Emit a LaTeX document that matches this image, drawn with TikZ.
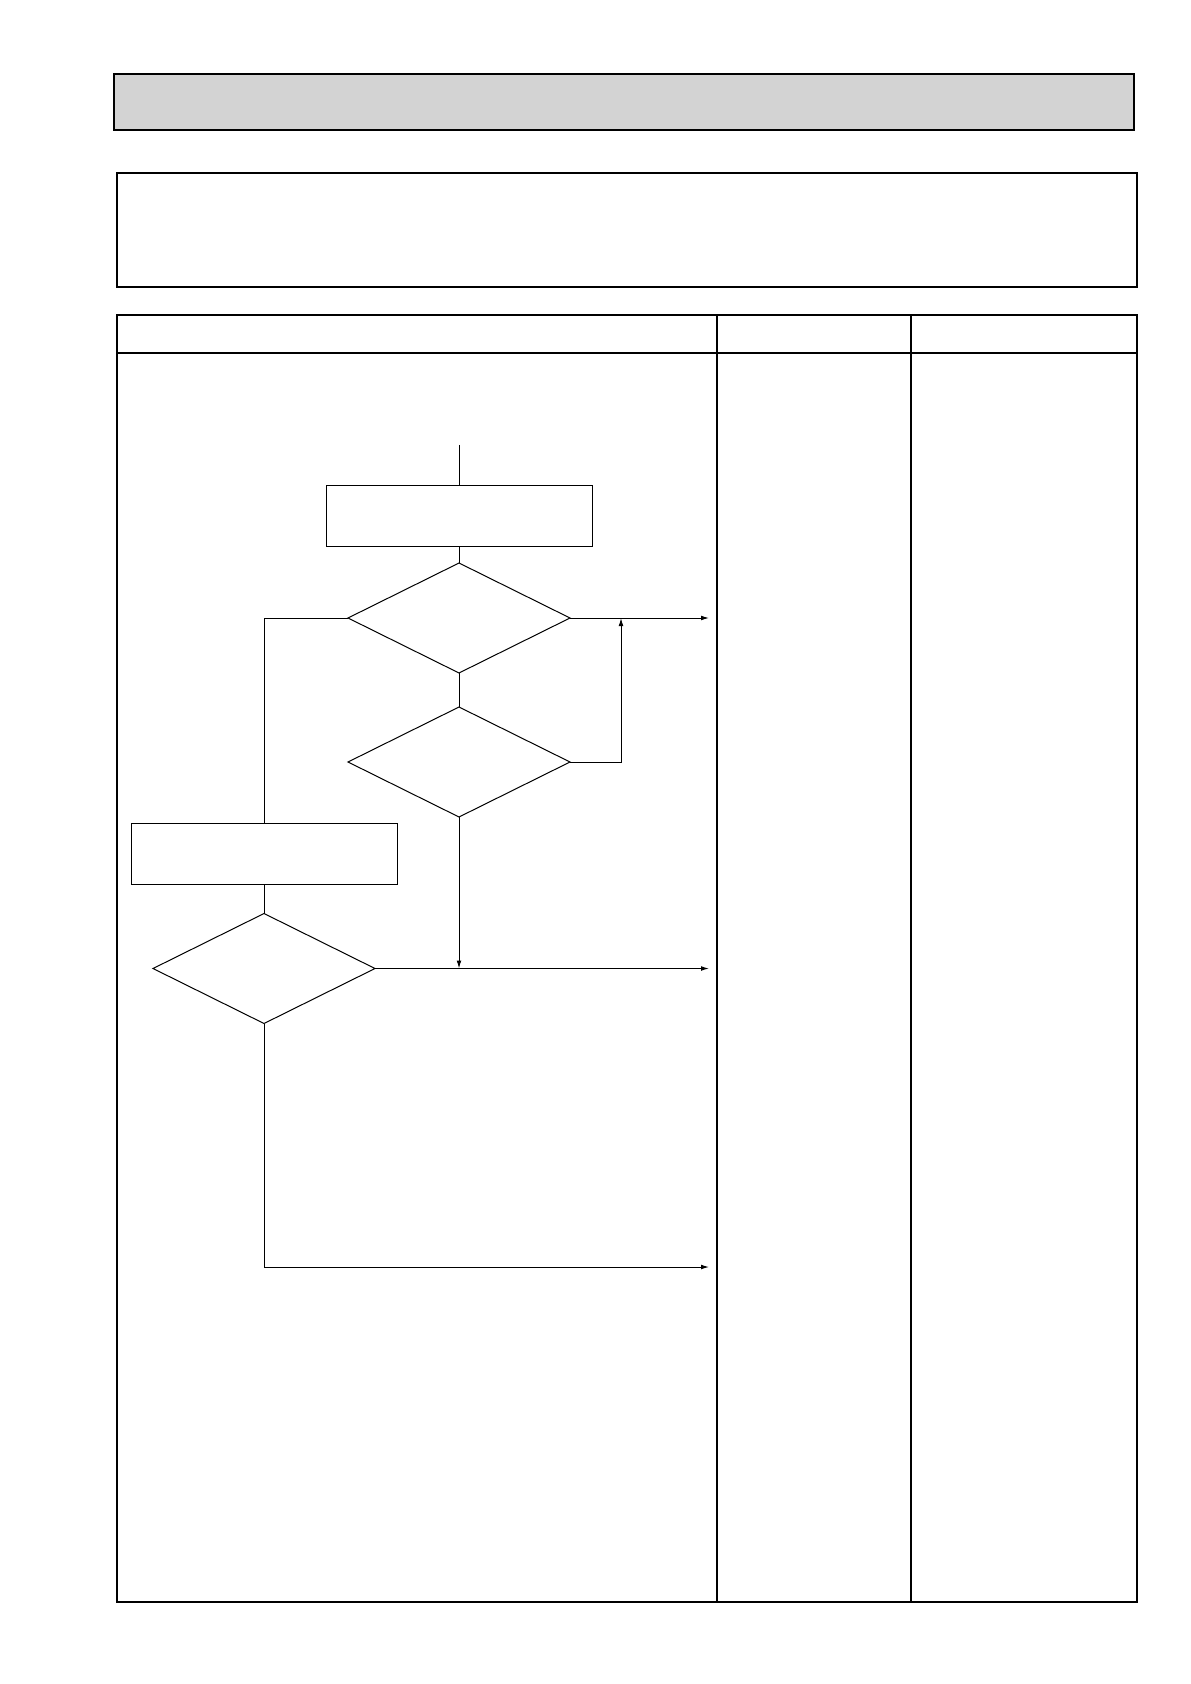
\documentclass[tikz,border=0pt]{standalone}
\usetikzlibrary{arrows.meta,positioning,shapes.geometric}
\definecolor{bandgray}{RGB}{211,211,211}
\newcommand{\flw}{0.5pt}
\tikzset{
    frame/.style = {draw, line width=0.8pt},
    shade/.style = {line width=1.3pt},
    procbox/.style = {
        draw, rectangle, line width=\flw,
        outer sep=0,
        inner sep=0,
        minimum width=133pt,
        minimum height=30.5pt
    },
    decision/.style = {
        draw, diamond, aspect=2, line width=\flw,
        outer sep=0,
        inner sep=0,
        minimum width=111pt,
        minimum height=55pt
    },
    flow/.style = {line width=\flw},
    arrow/.style = {flow, -{Latex[length=4pt,width=2.4pt]}}
}
\begin{document}
\begin{tikzpicture}[x=0.5pt,y=-0.5pt]
\useasboundingbox[fill=white] (0,0) rectangle (1190,1684);

% title band
\draw[frame, fill=bandgray] (114,74) rectangle (1134,130);
\draw[shade] (114,130) -- (1134,130) -- (1134,74);

% note box
\draw[frame] (117,173) rectangle (1137,287);
\draw[shade] (117,287) -- (1137,287) -- (1137,173);

% table
\draw[frame] (117,315) rectangle (1137,1602);
\draw[shade] (117,315) -- (1137,315) -- (1137,1602) -- (117,1602);
\draw[line width=0.7pt] (117,353) -- (1137,353);
\draw[line width=0.7pt] (717,315) -- (717,1602);
\draw[line width=0.7pt] (911,315) -- (911,1602);

% flow chart
\coordinate (Start) at (459,445);
\node[procbox] (Check) at (459,515.5) {};
\node[decision, below=8.5pt of Check] (DecA) {};
\node[decision, below=17pt of DecA] (DecB) {};
\node[procbox] (Measure) at (264,854) {};
\node[decision, below=14.5pt of Measure] (DecC) {};

\coordinate (OutX) at (709,0);
\coordinate (OutC) at (709,1267);
\coordinate (JoinX) at (621,0);

\draw[flow] (Start) -- (Check.north);
\draw[flow] (Check.south) -- (DecA.north);
\draw[arrow] (DecA.east) -- (DecA.east -| OutX);
\draw[flow] (DecA.south) -- (DecB.north);
\draw[arrow] (DecB.east) -| (DecA.east -| JoinX);
\draw[flow] (DecA.west) -| (Measure.north);
\draw[arrow] (DecB.south) -- (DecB.south |- DecC.east);
\draw[flow] (Measure.south) -- (DecC.north);
\draw[arrow] (DecC.east) -- (DecC.east -| OutX);
\draw[arrow] (DecC.south) |- (OutC);

\end{tikzpicture}
\end{document}
